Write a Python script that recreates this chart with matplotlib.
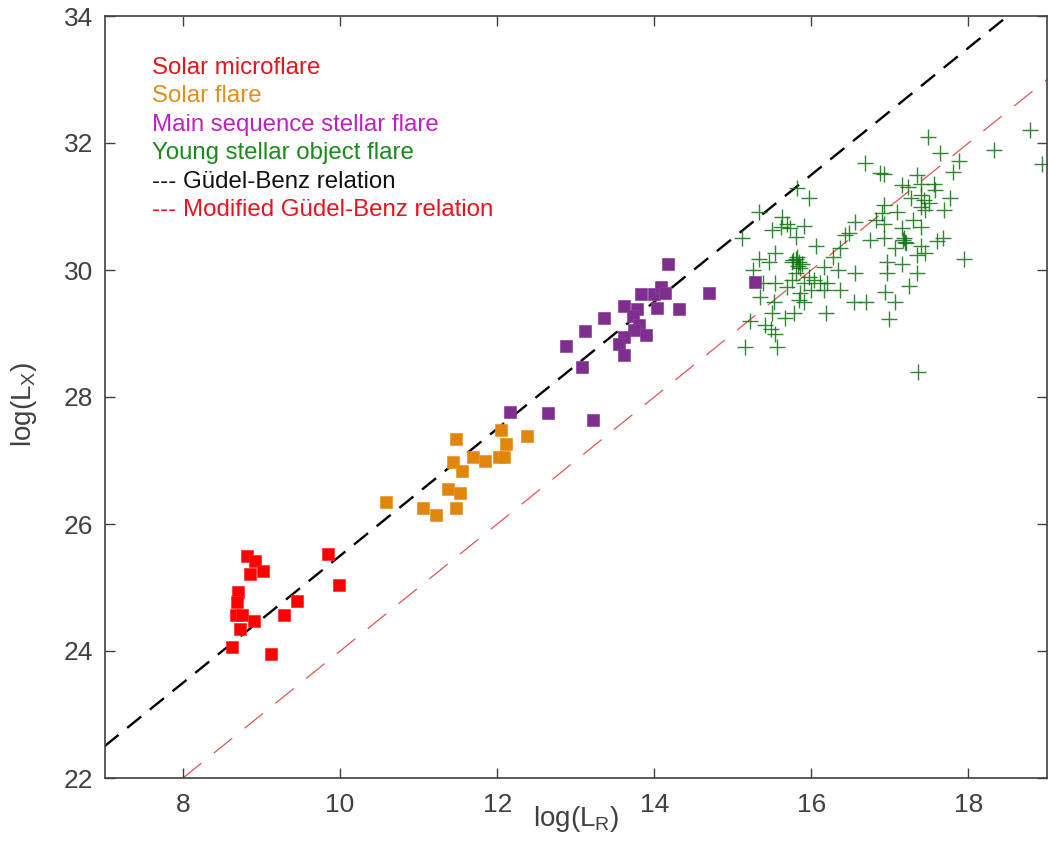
import matplotlib
matplotlib.use("Agg")
import matplotlib.pyplot as plt
import numpy as np

plt.rcParams['font.family'] = ['Liberation Sans', 'DejaVu Sans']
plt.rcParams['mathtext.fontset'] = 'custom'
plt.rcParams['mathtext.rm'] = 'Liberation Sans'
plt.rcParams['mathtext.default'] = 'regular'
plt.rcParams['lines.scale_dashes'] = False

# ---- data ----
micro_lr = [8.82, 8.91, 8.85, 9.02, 8.70, 8.69, 8.68, 8.75, 8.90, 8.73, 8.62, 9.12, 9.29, 9.45, 9.85, 9.99]
micro_lx = [25.50, 25.42, 25.21, 25.26, 24.93, 24.77, 24.57, 24.57, 24.48, 24.34, 24.07, 23.96, 24.56, 24.79, 25.53, 25.04]

solar_lr = [10.59, 11.05, 11.22, 11.48, 11.37, 11.52, 11.44, 11.55, 11.48, 11.69, 11.85, 12.02, 12.09, 12.11, 12.05, 12.38]
solar_lx = [26.35, 26.25, 26.14, 26.25, 26.55, 26.49, 26.97, 26.83, 27.34, 27.06, 27.00, 27.06, 27.06, 27.26, 27.48, 27.39]

ms_lr = [12.16, 12.65, 13.22, 13.08, 12.88, 13.12, 13.36, 13.61, 13.78, 13.73, 13.81, 13.74, 13.61, 13.55,
         13.61, 13.90, 13.83, 13.99, 14.09, 14.13, 14.03, 14.31, 14.18, 14.70, 15.28]
ms_lx = [27.77, 27.75, 27.64, 28.48, 28.80, 29.04, 29.24, 29.43, 29.39, 29.28, 29.13, 29.06, 28.95, 28.83,
         28.66, 28.97, 29.62, 29.62, 29.74, 29.63, 29.40, 29.38, 30.09, 29.64, 29.81]

yso_lr = [17.48, 18.78, 18.33, 18.93, 17.64, 17.88, 17.80, 16.68, 16.88, 16.93, 17.35, 17.16, 17.23, 17.39,
          17.56, 17.58, 17.39, 17.44, 17.50, 17.76, 17.27, 15.82, 15.97, 15.33, 15.63, 15.69, 15.73, 15.90,
          15.50, 15.80, 15.12, 16.92, 17.09, 16.90, 16.82, 16.56, 16.92, 17.30, 17.39, 17.16, 17.69, 16.43,
          16.48, 16.75, 16.92, 17.18, 17.20, 17.07, 17.40, 17.68, 17.60, 16.06, 16.37, 16.28, 17.94, 15.54,
          15.33, 15.46, 15.82, 15.75, 15.84, 15.86, 15.80, 16.16, 16.34, 16.56, 16.96, 16.96, 17.16, 17.35,
          17.45, 17.35, 15.26, 15.39, 15.54, 15.69, 15.75, 15.90, 15.97, 16.03, 16.11, 16.20, 15.99, 16.16,
          15.86, 15.84, 16.37, 16.54, 16.69, 16.94, 17.07, 17.24, 15.35, 15.52, 15.50, 15.78, 15.67, 16.19,
          15.22, 15.41, 15.48, 15.54, 15.56, 15.16, 16.99, 17.36, 15.90, 15.61, 15.80, 15.88, 15.83, 15.77,
          17.45, 17.40, 17.17, 17.19]
yso_lx = [32.10, 32.20, 31.89, 31.67, 31.84, 31.72, 31.55, 31.68, 31.52, 31.51, 31.50, 31.34, 31.31, 31.36,
          31.36, 31.26, 31.18, 31.10, 31.05, 31.14, 31.13, 31.29, 31.14, 30.92, 30.84, 30.73, 30.66, 30.69,
          30.63, 30.52, 30.50, 31.02, 30.92, 30.89, 30.79, 30.76, 30.73, 30.79, 30.68, 30.66, 30.94, 30.55,
          30.58, 30.47, 30.50, 30.50, 30.42, 30.34, 30.38, 30.51, 30.45, 30.38, 30.34, 30.21, 30.18, 30.26,
          30.18, 30.12, 30.21, 30.13, 30.12, 30.03, 29.95, 30.05, 30.00, 29.96, 30.13, 29.95, 30.10, 30.24,
          30.26, 29.95, 30.00, 29.79, 29.79, 29.74, 29.84, 29.79, 29.89, 29.84, 29.79, 29.79, 29.69, 29.69,
          29.63, 29.53, 29.69, 29.50, 29.50, 29.66, 29.50, 29.75, 29.58, 29.50, 29.32, 29.32, 29.24, 29.32,
          29.19, 29.13, 29.07, 29.00, 28.79, 28.78, 29.23, 28.39, 29.50, 30.68, 30.18, 30.10, 30.07, 30.15,
          30.95, 31.00, 30.47, 30.44]

# relations: log Lx = log Lr + offset
gb_range = [7.0, 19.0]
gb_offset = 15.5
mgb_range = [8.0, 19.0]
mgb_offset = 14.0

legend_labels = ['Solar microflare', 'Solar flare', 'Main sequence stellar flare',
                 'Young stellar object flare', '--- Güdel-Benz relation',
                 '--- Modified Güdel-Benz relation']
legend_colors = ['#e8141c', '#e0901a', '#c020c0', '#1a8a1a', '#111111', '#e8141c']

xticks = [8, 10, 12, 14, 16, 18]
yticks = [22, 24, 26, 28, 30, 32, 34]

# ---- figure ----
fig = plt.figure(figsize=(10.48, 8.51), dpi=100)
ax = fig.add_axes([104.5 / 1048, 73 / 851, 942.5 / 1048, 762 / 851])

xg = np.array(gb_range)
xm = np.array(mgb_range)
ax.plot(xg, xg + gb_offset, color='black', lw=1.7, dashes=(13, 8), dash_capstyle='butt', zorder=1)
ax.plot(xm, xm + mgb_offset, color='#e05555', lw=0.9, dashes=(17, 11.5), dash_capstyle='butt', zorder=1)

ax.plot(micro_lr, micro_lx, 's', color='#ff0000', ms=8, mec='#ff2a2a', mew=0.5, zorder=3)
ax.plot(solar_lr, solar_lx, 's', color='#e0860f', ms=8, mec='#e8941f', mew=0.5, zorder=3)
ax.plot(ms_lr, ms_lx, 's', color='#7e2f8e', ms=8, mec='#8e3f9e', mew=0.5, zorder=3)
ax.plot(yso_lr, yso_lx, '+', color='#0f700f', ms=11.5, mew=1.0, alpha=0.85, zorder=2)

ax.set_xlim(7, 19)
ax.set_ylim(22, 34)
ax.set_xticks(xticks)
ax.set_yticks(yticks)
ax.tick_params(direction='in', length=7, width=1, colors='#404040', labelsize=19,
               top=True, right=True, pad=8)
ax.tick_params(axis='x', pad=11)
for s in ax.spines.values():
    s.set_color('#404040')
    s.set_linewidth(1.2)

ax.set_xlabel(r'log(L$_{R}$)', fontsize=20, color='#404040')
ax.xaxis.set_label_coords(0.5, -0.034)
ax.xaxis.label.set_va('top')
ax.set_ylabel(r'log(L$_{X}$)', fontsize=20, color='#404040')
ax.yaxis.label.set_va('center')
ax.yaxis.set_label_coords((24 - 104.5) / 942.5, 0.49)

y0 = 68
for i, (lab, c) in enumerate(zip(legend_labels, legend_colors)):
    ax.text((152 - 104.5) / 942.5, (778 - (y0 + 28.5 * i)) / 762, lab, transform=ax.transAxes,
            color=c, fontsize=17.3, va='center', ha='left')

fig.savefig('out.png', dpi=100)
